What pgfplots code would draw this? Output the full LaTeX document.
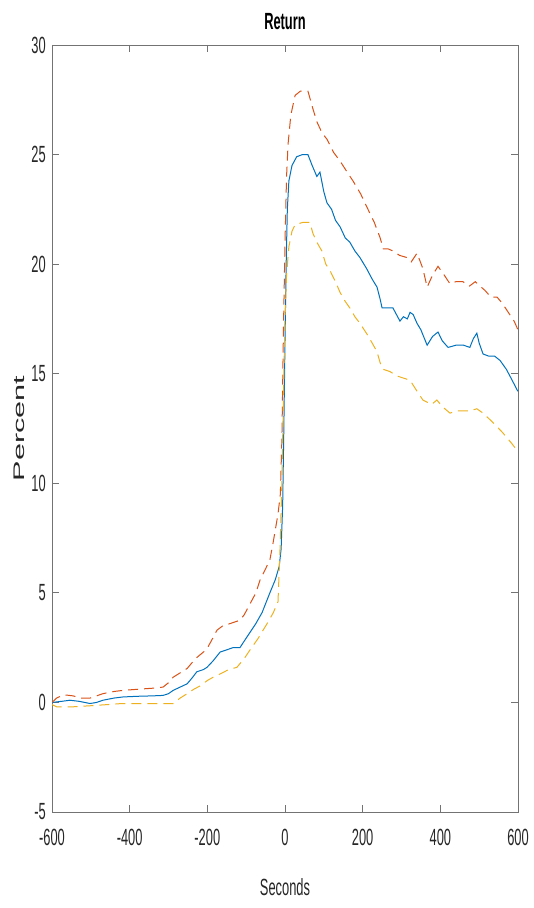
\documentclass[border=0pt]{standalone}
\usepackage{fontspec}
\setmainfont{Liberation Sans}
\newfontfamily\condensed[FakeStretch=0.55]{Liberation Sans}
\newfontfamily\ylfont[FakeStretch=2.0]{Liberation Sans}
\usepackage{pgfplots}
\pgfplotsset{compat=1.18}
\usepackage{pgfplotstable}
\definecolor{mblue}{rgb}{0,0.447,0.741}
\definecolor{mred}{rgb}{0.850,0.325,0.098}
\definecolor{myellow}{rgb}{0.929,0.694,0.125}

\pgfplotstableread{
x y
-600 0.0
-575 0.05
-554 0.1
-530 0.05
-502 -0.05
-485 0.0
-469 0.1
-440 0.2
-417 0.25
-380 0.28
-340 0.3
-314 0.32
-300 0.4
-288 0.55
-270 0.7
-252 0.85
-240 1.1
-227 1.4
-210 1.5
-201 1.6
-185 1.9
-167 2.3
-150 2.4
-134 2.5
-116 2.5
-105 2.8
-90 3.2
-75 3.6
-59 4.1
-39 5.0
-25 5.6
-15 6.2
-10 7.0
-6 9
-3 12.5
0 16.5
3 20
6 22.5
10 23.8
18 24.5
30 24.9
45 25.0
59 25.0
70 24.5
82 24.0
90 24.2
100 23.3
108 22.8
120 22.5
130 22.0
142 21.7
155 21.2
167 21.0
180 20.6
193 20.3
210 19.8
225 19.3
237 18.95
245 18.4
250 18.0
265 18.0
278 18.0
290 17.6
296 17.4
305 17.6
315 17.5
322 17.8
330 17.7
340 17.3
350 17.0
366 16.3
380 16.7
394 16.9
405 16.5
420 16.2
440 16.3
460 16.3
476 16.2
485 16.6
494 16.85
500 16.4
510 15.9
525 15.8
540 15.8
554 15.6
570 15.2
585 14.7
598 14.25
600 14.2
}\bluedata

\pgfplotstableread{
x y
-600 0.0
-588 0.2
-570 0.35
-546 0.3
-525 0.2
-502 0.2
-485 0.3
-469 0.4
-440 0.5
-417 0.55
-380 0.6
-340 0.65
-314 0.7
-300 0.9
-288 1.15
-270 1.35
-252 1.55
-240 1.8
-227 2.05
-210 2.3
-201 2.45
-190 2.8
-175 3.3
-160 3.5
-141 3.6
-116 3.75
-105 4.0
-90 4.5
-75 5.0
-64 5.6
-50 6.1
-39 6.5
-31 7.25
-18 8.6
-12 9.5
-8 12
-4 17
0 21
4 24
8 25.5
15 26.8
26 27.7
40 27.9
59 27.9
70 27.2
82 26.5
95 26.0
108 25.7
125 25.1
142 24.7
160 24.2
175 23.8
195 23.2
211 22.6
230 21.9
245 21.2
253 20.7
265 20.7
278 20.6
295 20.4
314 20.3
325 20.1
340 20.5
355 19.8
366 18.95
380 19.5
394 19.9
410 19.5
425 19.1
440 19.2
458 19.2
475 19.0
490 19.2
502 19.0
515 18.8
530 18.5
546 18.5
560 18.2
575 17.8
590 17.4
600 17.0
}\reddata

\pgfplotstableread{
x y
-600 -0.1
-588 -0.2
-546 -0.2
-500 -0.15
-458 -0.1
-420 -0.05
-373 -0.05
-330 -0.05
-288 -0.05
-270 0.2
-252 0.4
-235 0.6
-219 0.75
-200 1.0
-185 1.15
-167 1.3
-145 1.5
-124 1.6
-105 2.0
-90 2.4
-70 2.9
-46 3.6
-30 4.1
-18 4.6
-13 6.9
-8 10
-4 14
0 17.5
4 19.5
10 20.8
18 21.5
26 21.8
45 21.9
64 21.9
72 21.4
82 21.0
95 20.6
105 20.0
116 19.7
130 19.2
142 18.7
155 18.3
167 18.0
180 17.6
193 17.3
215 16.7
237 16.0
245 15.5
253 15.2
270 15.1
288 14.9
305 14.8
322 14.7
340 14.2
355 13.8
366 13.7
378 13.6
391 13.8
405 13.5
425 13.2
440 13.3
458 13.3
475 13.3
494 13.4
510 13.2
528 12.9
545 12.6
561 12.3
580 11.9
598 11.5
600 11.5
}\yellowdata

\begin{document}
\begin{tikzpicture}
\begin{axis}[
  name=ax,
  scale only axis,
  width=466bp, height=767bp,
  xmin=-600, xmax=600, ymin=-5, ymax=30,
  xtick={-600,-400,...,600},
  ytick={-5,0,...,30},
  /pgf/number format/assume math mode=true,
  /pgf/number format/set thousands separator={},
  tick align=inside,
  major tick length=7bp,
  every axis x/.append style={major tick length=10bp},
  every axis y/.append style={major tick length=5bp},
  axis line style={black!55, line width=0.8bp},
  tick style={black!55, line width=0.8bp},
  ticklabel style={font=\condensed\fontsize{23.5}{28}\selectfont, text=black!85},
  xticklabel style={anchor=north, inner sep=0pt, yshift=-17bp},
  yticklabel style={anchor=east, inner sep=0pt, xshift=-6bp},
  title={Return},
  title style={font=\condensed\bfseries\fontsize{23.5}{28}\selectfont, at={(0.5,1)}, anchor=center, yshift=17bp, inner sep=0pt},
  xlabel={Seconds},
  xlabel style={font=\condensed\fontsize{23.5}{28}\selectfont, at={(0.5,0)}, anchor=center, yshift=-75bp, inner sep=0pt, text=black!85},
  ylabel={Percent},
  ylabel style={font=\ylfont\fontsize{15.4}{18}\selectfont, at={(0,0.5)}, anchor=center, yshift=33bp, inner sep=0pt, text=black!85},
  clip=true,
]
\addplot[mblue, line width=1bp] table {\bluedata};
\addplot[mred, line width=1bp, dash pattern=on 10bp off 6bp] table {\reddata};
\addplot[myellow, line width=1bp, dash pattern=on 10bp off 6bp] table {\yellowdata};
\end{axis}
\pgfresetboundingbox
\path ([shift={(-52bp,-96bp)}]ax.south west) rectangle ([shift={(16bp,45bp)}]ax.north east);
\end{tikzpicture}
\end{document}
